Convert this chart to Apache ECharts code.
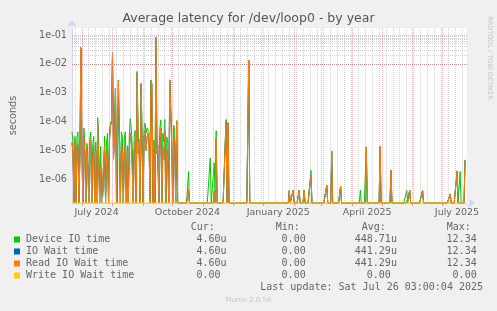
<!DOCTYPE html>
<html><head><meta charset="utf-8">
<script src="https://cdn.jsdelivr.net/npm/echarts@6/dist/echarts.min.js"></script>
<style>html,body{margin:0;padding:0;background:#f0f0f0}#c{width:497px;height:311px}</style>
</head><body><div id="c"></div><script>
// ---------- data ----------
const DAY = 86400000;
const startTime = Date.UTC(2024, 5, 21, 3, 0, 0);   // 400 days before last update
const endTime = startTime + 400 * DAY;
const Y_MIN = Math.pow(10, -6.81), Y_MAX = Math.pow(10, -0.758);

const seriesNames = ['Device IO time', 'IO Wait time', 'Read IO Wait time', 'Write IO Wait time'];
const seriesColors = ['#00cc00', '#0066b3', '#ff8000', '#ffcc00'];

// daily values (seconds), day 0 = 2024-06-21
const deviceIO = [
4.5e-5,2e-5,0,3.1e-5,0,2.8e-5,4.5e-5,0,1.2e-5,3e-2,3e-5,0,6e-5,2e-5,0,1.8e-5,9e-6,0,2.5e-5,4.5e-5,
0,1.5e-5,3.1e-5,0,2e-5,0,1.4e-4,2e-5,0,1.4e-5,4e-7,2.5e-7,5e-7,3.2e-5,0,2e-5,4e-5,0,5e-5,9e-5,
1.1e-4,2e-2,3e-5,6e-5,1.2e-3,1e-5,0,2.8e-3,2.5e-3,0,4.5e-5,3e-5,0,2.5e-5,4.5e-5,0,1.5e-5,0,3e-5,1.3e-4,
6e-5,1.4e-5,0,3e-5,5e-5,0,5e-3,2e-5,2.5e-5,0,2e-3,3e-5,0,6e-5,9e-5,4e-5,6e-5,7e-5,4.5e-5,0,
2.8e-3,2.5e-3,0,2.3e-5,0,7e-2,3e-5,3e-5,0,6e-5,1.15e-4,0,4e-5,2e-5,1.2e-4,0,3e-5,1.8e-5,0,2.5e-3,
2.2e-3,4e-5,0,7.5e-5,5e-5,0,1.1e-4,0,0,0,0,0,0,0,0,0,0,0,1.9e-6,0,
0,0,0,0,0,0,0,0,0,0,0,0,0,0,0,0,0,0,0,0,
5.6e-6,0,0,0,3.8e-6,0,4.9e-5,0,0,0,0,0,0,0,0,0,1.2e-4,0,9e-5,0,
0,0,0,0,0,0,0,0,0,0,0,0,0,0,0,0,0,0,0,1.2e-2,
0,0,0,0,0,0,0,0,0,0,0,0,0,0,0,0,0,0,0,0,
0,0,0,0,0,0,0,0,0,0,0,0,0,0,0,0,0,0,0,0,
4.1e-7,0,0,0,4.3e-7,0,0,0,0,0,4.3e-7,0,0,0,0,4.3e-7,0,0,0,0,
0,0,2.1e-6,0,0,0,0,0,0,0,0,0,0,0,0,0,0,0,6.4e-7,0,
0,0,0,9e-6,0,0,0,0,0,0,0,0,6e-7,0,0,0,0,0,0,0,
0,0,0,0,0,0,0,0,0,0,0,0,4.3e-7,0,0,0,0,0,1.2e-5,0,
0,0,0,0,0,0,0,0,0,0,0,0,1.3e-5,0,0,0,0,0,0,0,
0,0,0,2e-6,0,0,0,0,0,0,0,0,0,0,0,0,0,0,0,4.3e-7,
0,0,4.3e-7,0,0,0,0,0,0,0,0,0,0,0,0,4.3e-7,0,0,0,0,
0,0,0,0,0,0,0,0,0,0,0,0,0,0,0,0,0,0,0,0,
0,0,0,3e-7,0,0,0,0,0,0,1.8e-6,0,0,1.9e-6,0,0,0,0,4.6e-6,4.6e-6
];
const readWait = [
1.9e-5,8e-6,0,2.2e-5,0,1.2e-5,1.6e-5,0,5e-6,3.7e-2,1e-5,0,3e-5,8e-6,0,1.2e-5,3e-6,0,1.5e-5,2.3e-5,
0,6e-6,1.5e-5,0,1e-5,0,8.8e-5,5e-6,0,2.8e-6,0,0,0,1.5e-5,0,6e-6,1e-5,0,2.5e-5,7e-5,
1e-4,2.5e-2,5e-6,2e-5,1.45e-3,0,0,2.5e-3,2.6e-3,0,2e-5,1e-5,0,8e-6,1.5e-5,0,1e-5,0,1.2e-5,4e-5,
2e-5,2.5e-6,0,1e-5,2e-5,0,5.4e-3,8e-6,1e-5,0,2.1e-3,1e-5,0,3e-5,5e-5,1e-5,3e-5,4e-5,2e-5,0,
2.6e-3,2e-3,0,1e-5,0,8.5e-2,8e-6,1.5e-5,0,2.5e-5,6e-5,0,1.2e-5,5e-6,5e-5,0,1e-5,4e-6,0,2.8e-3,
2.4e-3,1.5e-5,0,3e-5,2e-5,0,1e-4,0,0,0,0,0,0,0,0,0,0,0,4.4e-7,0,
0,0,0,0,0,0,0,0,0,0,0,0,0,0,0,0,0,0,0,0,
0,0,0,0,4e-7,0,2.7e-5,0,0,0,0,0,0,0,0,0,1.05e-4,0,9.3e-5,0,
0,0,0,0,0,0,0,0,0,0,0,0,0,0,0,0,0,0,0,1.36e-2,
0,0,0,0,0,0,0,0,0,0,0,0,0,0,0,0,0,0,0,0,
0,0,0,0,0,0,0,0,0,0,0,0,0,0,0,0,0,0,0,0,
4.1e-7,0,0,0,4.3e-7,0,0,0,0,0,4.3e-7,0,0,0,0,4.3e-7,0,0,0,0,
0,0,1.4e-6,0,0,0,0,0,0,0,0,0,0,0,0,0,0,0,6.4e-7,0,
0,0,0,9.8e-6,0,0,0,0,0,0,0,0,6e-7,0,0,0,0,0,0,0,
0,0,0,0,0,0,0,0,0,0,0,0,0,0,0,0,0,0,1.35e-5,0,
0,0,0,0,0,0,0,0,0,0,0,0,1.4e-5,0,0,0,0,0,0,0,
0,0,0,2.1e-6,0,0,0,0,0,0,0,0,0,0,0,0,0,0,0,0,
0,0,4.3e-7,0,0,0,0,0,0,0,0,0,0,0,0,4.3e-7,0,0,0,0,
0,0,0,0,0,0,0,0,0,0,0,0,0,0,0,0,0,0,0,0,
0,0,0,3.2e-7,0,0,0,0,0,0,2e-6,0,0,0,0,0,0,0,4.6e-6,4.6e-6
];
const ioWait = readWait.slice();          // identical to read wait in the source (same Cur/Avg/Max)
const writeWait = new Array(400).fill(0); // all zero in the source (Max 0.00)

const xTickLabels = ['July 2024', 'October 2024', 'January 2025', 'April 2025', 'July 2025'];
const xTickMonths = [[2024, 6], [2024, 9], [2025, 0], [2025, 3], [2025, 6]];
const yTickValues = [1e-6, 1e-5, 1e-4, 1e-3, 1e-2, 1e-1];
const yTickLabels = ['1e-06', '1e-05', '1e-04', '1e-03', '1e-02', '1e-01'];

const statCur = ['4.60u', '4.60u', '4.60u', '0.00'];
const statMin = ['0.00', '0.00', '0.00', '0.00'];
const statAvg = ['448.71u', '441.29u', '441.29u', '0.00'];
const statMax = ['12.34', '12.34', '12.34', '0.00'];
const lastUpdate = 'Last update: Sat Jul 26 03:00:04 2025';

// ---------- build ----------
const toSeries = arr => arr.map((v, i) => [startTime + i * DAY, v > 0 ? v : Y_MIN]);
const dataSets = [deviceIO, ioWait, readWait, writeWait];

const monthStarts = [];
for (let y = 2024, m = 6; ; ) {
  const t = Date.UTC(y, m, 1);
  if (t > endTime) break;
  if (t >= startTime) monthStarts.push(t);
  m++; if (m > 11) { m = 0; y++; }
}
const labelTimes = xTickMonths.map(([y, m]) => Date.UTC(y, m, 1) + 15 * DAY);
const weekLines = [];
for (let t = Date.UTC(2024, 5, 24); t < endTime; t += 7 * DAY) weekLines.push(t);

const minorStyle = { color: 'rgba(150,150,150,0.42)', width: 1, type: [1, 1] };
const majorStyle = { color: 'rgba(235,120,120,0.5)', width: 1, type: [1, 1] };
const gridLines = [];
weekLines.forEach(t => gridLines.push({ xAxis: t, lineStyle: minorStyle }));
for (let e = -7; e <= -1; e++) {
  for (let k = 2; k <= 9; k++) {
    const v = k * Math.pow(10, e);
    if (v > Y_MIN && v < Y_MAX) gridLines.push({ yAxis: v, lineStyle: minorStyle });
  }
}
monthStarts.forEach(t => gridLines.push({ xAxis: t, lineStyle: majorStyle }));
yTickValues.forEach(v => gridLines.push({ yAxis: v, lineStyle: majorStyle }));

const FONT = '"DejaVu Sans", sans-serif';
const MONO = '"DejaVu Sans Mono", monospace';
const TXT = '#666';

const series = [{
  type: 'line', name: 'grid', data: [[startTime, Y_MIN]], symbol: 'none', silent: true, z: 1,
  lineStyle: { opacity: 0 },
  markLine: { silent: true, symbol: ['none', 'none'], label: { show: false }, animation: false, data: gridLines }
}];
dataSets.forEach((arr, k) => series.push({
  type: 'line', name: seriesNames[k], data: toSeries(arr), symbol: 'none', showSymbol: false,
  clip: false, z: 2 + k, lineStyle: { color: seriesColors[k], width: 1 }, itemStyle: { color: seriesColors[k] }
}));

// legend table
const graphic = [];
const rowY = [239.5, 251.5, 263.5, 275.5];
const txt = (text, x, y, align, font, fill, extra) => Object.assign({
  type: 'text', x, y, silent: true,
  style: { text, font, fill, textAlign: align, textVerticalAlign: 'middle', verticalAlign: 'middle' }
}, extra || {});
graphic.push(txt('Cur:', 190.7, 227.5, 'left', '10px ' + MONO, TXT));
graphic.push(txt('Min:', 275.7, 227.5, 'left', '10px ' + MONO, TXT));
graphic.push(txt('Avg:', 361.7, 227.5, 'left', '10px ' + MONO, TXT));
graphic.push(txt('Max:', 446.7, 227.5, 'left', '10px ' + MONO, TXT));
const pad = s => /[a-zA-Z]$/.test(s) ? s : s + ' ';
seriesNames.forEach((n, k) => {
  graphic.push({ type: 'rect', silent: true, shape: { x: 14, y: rowY[k] - 3, width: 6, height: 6 }, style: { fill: seriesColors[k] } });
  graphic.push(txt(n, 26, rowY[k], 'left', '10px ' + MONO, TXT));
  graphic.push(txt(pad(statCur[k]), 226.5, rowY[k], 'right', '10px ' + MONO, TXT));
  graphic.push(txt(pad(statMin[k]), 311.7, rowY[k], 'right', '10px ' + MONO, TXT));
  graphic.push(txt(pad(statAvg[k]), 396.9, rowY[k], 'right', '10px ' + MONO, TXT));
  graphic.push(txt(pad(statMax[k]), 482.7, rowY[k], 'right', '10px ' + MONO, TXT));
});
graphic.push(txt(lastUpdate, 483, 287.7, 'right', '10px ' + MONO, TXT));
graphic.push(txt('Munin 2.0.56', 248.5, 300, 'center', '7px ' + FONT, '#c8c8c8'));
graphic.push(txt('RRDTOOL / TOBI OETIKER', 490, 58, 'center', '6.5px ' + FONT, '#c4c4c4', { rotation: -Math.PI / 2 }));

const chart = echarts.init(document.getElementById('c'), null, { renderer: 'canvas' });
chart.setOption({
  animation: false,
  backgroundColor: '#f0f0f0',
  title: {
    text: 'Average latency for /dev/loop0 - by year', left: 'center', top: 12, padding: 0,
    textStyle: { fontFamily: FONT, fontSize: 12.5, fontWeight: 'normal', color: '#555' }
  },
  grid: { left: 67, right: 30, top: 28, bottom: 108, show: true, backgroundColor: '#ffffff', borderWidth: 0 },
  xAxis: {
    type: 'value', min: startTime, max: endTime,
    axisLine: { show: true, lineStyle: { color: '#CFD6F8', width: 1 }, symbol: ['none', 'arrow'], symbolSize: [7, 7], symbolOffset: [0, 8] },
    axisTick: { show: true, customValues: monthStarts, length: 3, lineStyle: { color: 'rgba(240,110,110,0.7)' } },
    axisLabel: {
      customValues: labelTimes, color: TXT, fontFamily: FONT, fontSize: 9.5, margin: 5, hideOverlap: false,
      formatter: v => { const i = labelTimes.indexOf(v); return i >= 0 ? xTickLabels[i] : ''; }
    },
    splitLine: { show: false }
  },
  yAxis: {
    type: 'log', logBase: 10, min: Y_MIN, max: Y_MAX,
    name: 'seconds', nameLocation: 'middle', nameGap: 54, nameRotate: 90,
    nameTextStyle: { color: TXT, fontFamily: FONT, fontSize: 9.7 },
    axisLine: { show: true, lineStyle: { color: '#CFD6F8', width: 1 }, symbol: ['none', 'arrow'], symbolSize: [7, 7], symbolOffset: [0, 8] },
    axisTick: { show: false },
    axisLabel: {
      customValues: yTickValues, color: TXT, fontFamily: FONT, fontSize: 9.7, margin: 5,
      formatter: v => {
        let best = -1, d = 1e9;
        yTickValues.forEach((t, i) => { const dd = Math.abs(Math.log10(t) - Math.log10(v)); if (dd < d) { d = dd; best = i; } });
        return d < 1e-6 ? yTickLabels[best] : '';
      }
    },
    splitLine: { show: false }, minorTick: { show: false }, minorSplitLine: { show: false }
  },
  graphic,
  series
});
</script></body></html>
